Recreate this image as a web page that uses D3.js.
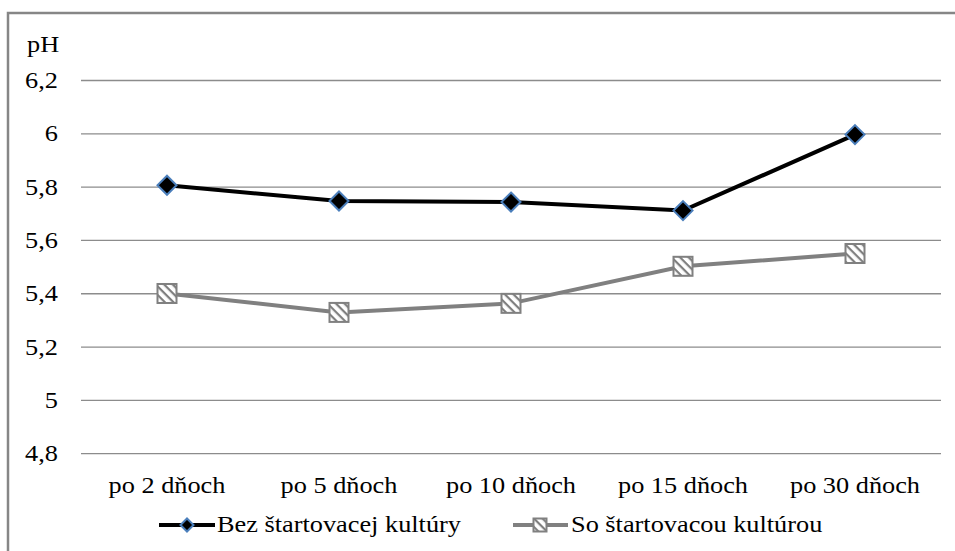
<!DOCTYPE html>
<html><head><meta charset="utf-8">
<script src="https://cdn.jsdelivr.net/npm/d3@7/dist/d3.min.js"></script>
<style>body{margin:0;background:#fff}svg{display:block}</style>
</head><body>
<script>
const categories = ["po 2 dňoch","po 5 dňoch","po 10 dňoch","po 15 dňoch","po 30 dňoch"];
const bezStart = [5.807, 5.748, 5.744, 5.712, 5.997];
const soStart = [5.401, 5.330, 5.364, 5.503, 5.551];
const yTicks = [4.8, 5.0, 5.2, 5.4, 5.6, 5.8, 6.0, 6.2];
const seriesNames = ["Bez štartovacej kultúry", "So štartovacou kultúrou"];

const FONT = '"Liberation Serif"';
const W = 955, H = 551;
const svg = d3.select("body").append("svg").attr("width", W).attr("height", H);
const defs = svg.append("defs");
const pat = defs.append("pattern").attr("id","hatch").attr("patternUnits","userSpaceOnUse")
  .attr("width",6).attr("height",6).attr("patternTransform","rotate(45)");
pat.append("rect").attr("width",6).attr("height",6).attr("fill","#fff");
pat.append("rect").attr("x",0).attr("y",0).attr("width",6).attr("height",2.2).attr("fill","#7f7f7f");

// outer border
svg.append("rect").attr("x",8).attr("y",13).attr("width",W).attr("height",H).attr("fill","none")
  .attr("stroke","#868686").attr("stroke-width",2.5);

const x = d3.scalePoint().domain(categories).range([167, 855]);
const y = d3.scaleLinear().domain([4.8, 6.2]).range([453.7, 80.5]);
const SX = 1.17;

// gridlines
svg.append("g").selectAll("line").data(yTicks).join("line")
  .attr("x1",81).attr("x2",941).attr("y1",d=>y(d)).attr("y2",d=>y(d))
  .attr("stroke","#8c8c8c").attr("stroke-width",1.3);

const fmt = d => d3.format(".1f")(d).replace(/\.0$/,"").replace(".",",");
function txt(g, xx, yy, s, anchor){
  return g.append("text").attr("transform",`translate(${xx},${yy}) scale(${SX},1)`)
    .attr("text-anchor",anchor||"start").attr("font-size",22.5).style("font-family",FONT)
    .attr("fill","#000").text(s);
}
const yl = svg.append("g");
yTicks.forEach(d=>txt(yl, 58, y(d)+7.5, fmt(d), "end"));
txt(svg, 27, 52, "pH");

const xl = svg.append("g");
categories.forEach(d=>txt(xl, x(d), 493, d, "middle"));

const line = d3.line().x((d,i)=>x(categories[i])).y(d=>y(d));
svg.append("path").datum(soStart).attr("d",line).attr("fill","none").attr("stroke","#808080").attr("stroke-width",4);
svg.append("path").datum(bezStart).attr("d",line).attr("fill","none").attr("stroke","#000").attr("stroke-width",4);

function square(g, cx, cy, s){
  g.append("rect").attr("x",cx-s/2).attr("y",cy-s/2).attr("width",s).attr("height",s)
   .attr("fill","url(#hatch)").attr("stroke","#808080").attr("stroke-width",2);
}
function diamond(g, cx, cy, r){
  g.append("path").attr("d",`M${cx},${cy-r}L${cx+r},${cy}L${cx},${cy+r}L${cx-r},${cy}Z`)
   .attr("fill","#000").attr("stroke","#4a7ebb").attr("stroke-width",2);
}
const mk = svg.append("g");
soStart.forEach((v,i)=>square(mk, x(categories[i]), y(v), 19));
bezStart.forEach((v,i)=>diamond(mk, x(categories[i]), y(v), 9.5));

// legend
const lg = svg.append("g");
lg.append("line").attr("x1",159).attr("x2",215).attr("y1",525).attr("y2",525).attr("stroke","#000").attr("stroke-width",4);
diamond(lg,187,525,6.5);
txt(lg, 217, 532, seriesNames[0]);
lg.append("line").attr("x1",513).attr("x2",568).attr("y1",525).attr("y2",525).attr("stroke","#808080").attr("stroke-width",4);
square(lg,540,525,13);
txt(lg, 571, 532, seriesNames[1]);
</script>
</body></html>
